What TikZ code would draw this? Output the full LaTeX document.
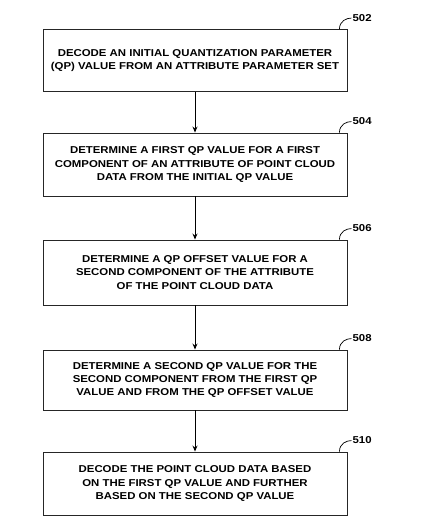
\documentclass[tikz,border=0pt]{standalone}
\usepackage{fontspec}
\setmainfont{Liberation Sans}
\newfontfamily\boxfont[FakeStretch=1.14]{Liberation Sans}
\usetikzlibrary{arrows.meta}
\begin{document}
\begin{tikzpicture}[x=1pt,y=1pt,
  stepbox/.style={draw=black!85,line width=0.9pt,minimum width=304pt,minimum height=62pt,
    align=center,inner sep=2pt,font=\boxfont\fontsize{10}{13.3}\selectfont\bfseries},
  flow/.style={-{Stealth[length=6pt,width=5pt]},line width=1pt},
  lead/.style={line width=0.7pt},
  reflabel/.style={anchor=west,font=\boxfont\fontsize{10}{11}\selectfont\bfseries,inner sep=1pt}]
\useasboundingbox (0,0) rectangle (439,-532);
\node[stepbox] (b1) at (195,-60.5) {DECODE AN INITIAL QUANTIZATION PARAMETER\\(QP) VALUE FROM AN ATTRIBUTE PARAMETER SET};
\node[stepbox,minimum height=63pt] (b2) at (195,-164.5) {DETERMINE A FIRST QP VALUE FOR A FIRST\\COMPONENT OF AN ATTRIBUTE OF POINT CLOUD\\DATA FROM THE INITIAL QP VALUE};
\node[stepbox,minimum height=65pt] (b3) at (195,-272.5) {DETERMINE A QP OFFSET VALUE FOR A\\SECOND COMPONENT OF THE ATTRIBUTE\\OF THE POINT CLOUD DATA};
\node[stepbox,minimum height=60pt] (b4) at (195,-380) {DETERMINE A SECOND QP VALUE FOR THE\\SECOND COMPONENT FROM THE FIRST QP\\VALUE AND FROM THE QP OFFSET VALUE};
\node[stepbox,minimum height=63pt] (b5) at (195,-483.5) {DECODE THE POINT CLOUD DATA BASED\\ON THE FIRST QP VALUE AND FURTHER\\BASED ON THE SECOND QP VALUE};
\draw[flow] (b1) -- (b2);
\draw[flow] (b2) -- (b3);
\draw[flow] (b3) -- (b4);
\draw[flow] (b4) -- (b5);
\foreach \b/\t in {b1/502,b2/504,b3/506,b4/508,b5/510}{
  \coordinate (s\b) at ([xshift=-8pt]\b.north east);
  \node[reflabel] (l\b) at ([xshift=4pt,yshift=11pt]\b.north east) {\t};
  \draw[lead] (s\b) .. controls ([yshift=8pt]s\b) and ([xshift=-5pt]l\b.west) .. (l\b.west);
}
\end{tikzpicture}
\end{document}
